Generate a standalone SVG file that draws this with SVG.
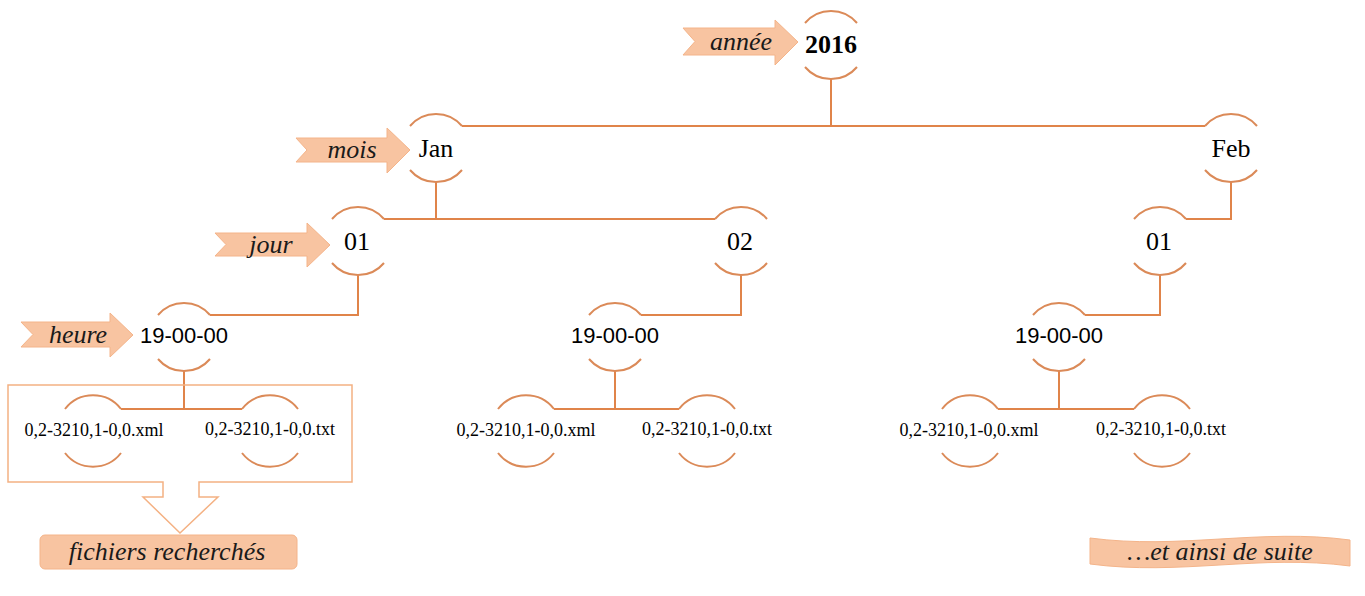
<svg xmlns="http://www.w3.org/2000/svg" width="1365" height="596" viewBox="0 0 1365 596">
<style>
.arc{fill:none;stroke:#DB8A58;stroke-width:2}
.ln{fill:none;stroke:#E0844A;stroke-width:2}
.tag{fill:#F8C4A1;stroke:#F4B48A;stroke-width:1}
.tagt{font-family:"Liberation Serif",serif;font-style:italic;font-size:26px;fill:#1a1a1a}
.nl{font-family:"Liberation Serif",serif;font-size:26px;fill:#000;text-anchor:middle}
.hl{font-family:"Liberation Sans",sans-serif;font-size:22px;fill:#000;text-anchor:middle}
.fl{font-family:"Liberation Serif",serif;font-size:18px;fill:#000;text-anchor:middle}
</style>
<rect width="1365" height="596" fill="#fff"/>
<defs>
<path id="n34" d="M-26,-22 A34,34 0 0 1 26,-22 M-26,22 A34,34 0 0 0 26,22"/>
<path id="n35" d="M-28,-22 A35.5,35.5 0 0 1 28,-22 M-28,22 A35.5,35.5 0 0 0 28,22"/>
</defs>
<g id="connectors">
<path class="ln" d="M831,78 V126 M462,126 H1205"/>
<path class="ln" d="M436,182 V219 M384,219 H715"/>
<path class="ln" d="M1231,182 V219 H1186"/>
<path class="ln" d="M358,275 V315 H210"/>
<path class="ln" d="M741,275 V315 H641"/>
<path class="ln" d="M1160,275 V315 H1085"/>
<path class="ln" d="M184,371 V409 M121,409 H242"/>
<path class="ln" d="M615,371 V409 M554,409 H679"/>
<path class="ln" d="M1059,371 V409 M998,409 H1134"/>
</g>
<g id="n2016"><use href="#n34" class="arc" x="831" y="45"/><text x="831" y="53" class="nl" font-weight="bold" font-size="27">2016</text></g>
<g id="nJan"><use href="#n34" class="arc" x="436" y="148"/><text x="436" y="157" class="nl" font-size="28">Jan</text></g>
<g id="nFeb"><use href="#n34" class="arc" x="1231" y="148"/><text x="1231" y="157" class="nl" font-size="28">Feb</text></g>
<g id="nJan01"><use href="#n34" class="arc" x="358" y="241"/><text x="357" y="250" class="nl">01</text></g>
<g id="nJan02"><use href="#n34" class="arc" x="741" y="241"/><text x="740" y="250" class="nl">02</text></g>
<g id="nFeb01"><use href="#n34" class="arc" x="1160" y="241"/><text x="1159" y="250" class="nl">01</text></g>
<g id="h1"><use href="#n34" class="arc" x="184" y="337"/><text x="184" y="343" class="hl">19-00-00</text></g>
<g id="h2"><use href="#n34" class="arc" x="615" y="337"/><text x="615" y="343" class="hl">19-00-00</text></g>
<g id="h3"><use href="#n34" class="arc" x="1059" y="337"/><text x="1059" y="343" class="hl">19-00-00</text></g>
<g id="f1x"><use href="#n35" class="arc" x="93" y="431"/><text x="94" y="436" class="fl">0,2-3210,1-0,0.xml</text></g>
<g id="f1t"><use href="#n35" class="arc" x="270" y="431"/><text x="270" y="435" class="fl">0,2-3210,1-0,0.txt</text></g>
<g id="f2x"><use href="#n35" class="arc" x="526" y="431"/><text x="526" y="436" class="fl">0,2-3210,1-0,0.xml</text></g>
<g id="f2t"><use href="#n35" class="arc" x="707" y="431"/><text x="707" y="435" class="fl">0,2-3210,1-0,0.txt</text></g>
<g id="f3x"><use href="#n35" class="arc" x="970" y="431"/><text x="969" y="436" class="fl">0,2-3210,1-0,0.xml</text></g>
<g id="f3t"><use href="#n35" class="arc" x="1162" y="431"/><text x="1161" y="435" class="fl">0,2-3210,1-0,0.txt</text></g>
<g id="tag-annee"><path class="tag" d="M683,28 H775 V20 L798,42 L775,65 V55 H683 L695,41.5 Z"/><text x="741" y="50" class="tagt" text-anchor="middle">année</text></g>
<g id="tag-mois"><path class="tag" d="M296,138 H387 V128 L410,150 L387,173 V162 H296 L307,150 Z"/><text x="352" y="158" class="tagt" text-anchor="middle">mois</text></g>
<g id="tag-jour"><path class="tag" d="M215,233 H307 V223 L330,245 L307,267 V256 H215 L226,244.5 Z"/><text x="271" y="253" class="tagt" text-anchor="middle">jour</text></g>
<g id="tag-heure"><path class="tag" d="M21,322 H110 V313 L133,335 L110,357 V347 H21 L33,334.5 Z"/><text x="78" y="343" class="tagt" text-anchor="middle">heure</text></g>
<g id="selection"><path d="M163,482 H8 V385 H352 V482 H199 V497 H218 L180,533 L143,497 H163 Z" fill="none" stroke="#F4B183" stroke-width="1.5"/></g>
<g id="fichiers"><rect x="40" y="535" width="257" height="34" rx="5" fill="#F8C4A1" stroke="#F4B48A" stroke-width="1"/><text x="167" y="560" class="tagt" text-anchor="middle">fichiers recherchés</text></g>
<g id="suite"><path d="M1090,538 C1180,550 1260,528 1350,540 L1350,566 C1260,554 1180,576 1090,564 Z" fill="#F8C4A1" stroke="#F4B48A" stroke-width="1"/><text x="1220" y="560" class="tagt" font-size="27" text-anchor="middle">…et ainsi de suite</text></g>
</svg>
